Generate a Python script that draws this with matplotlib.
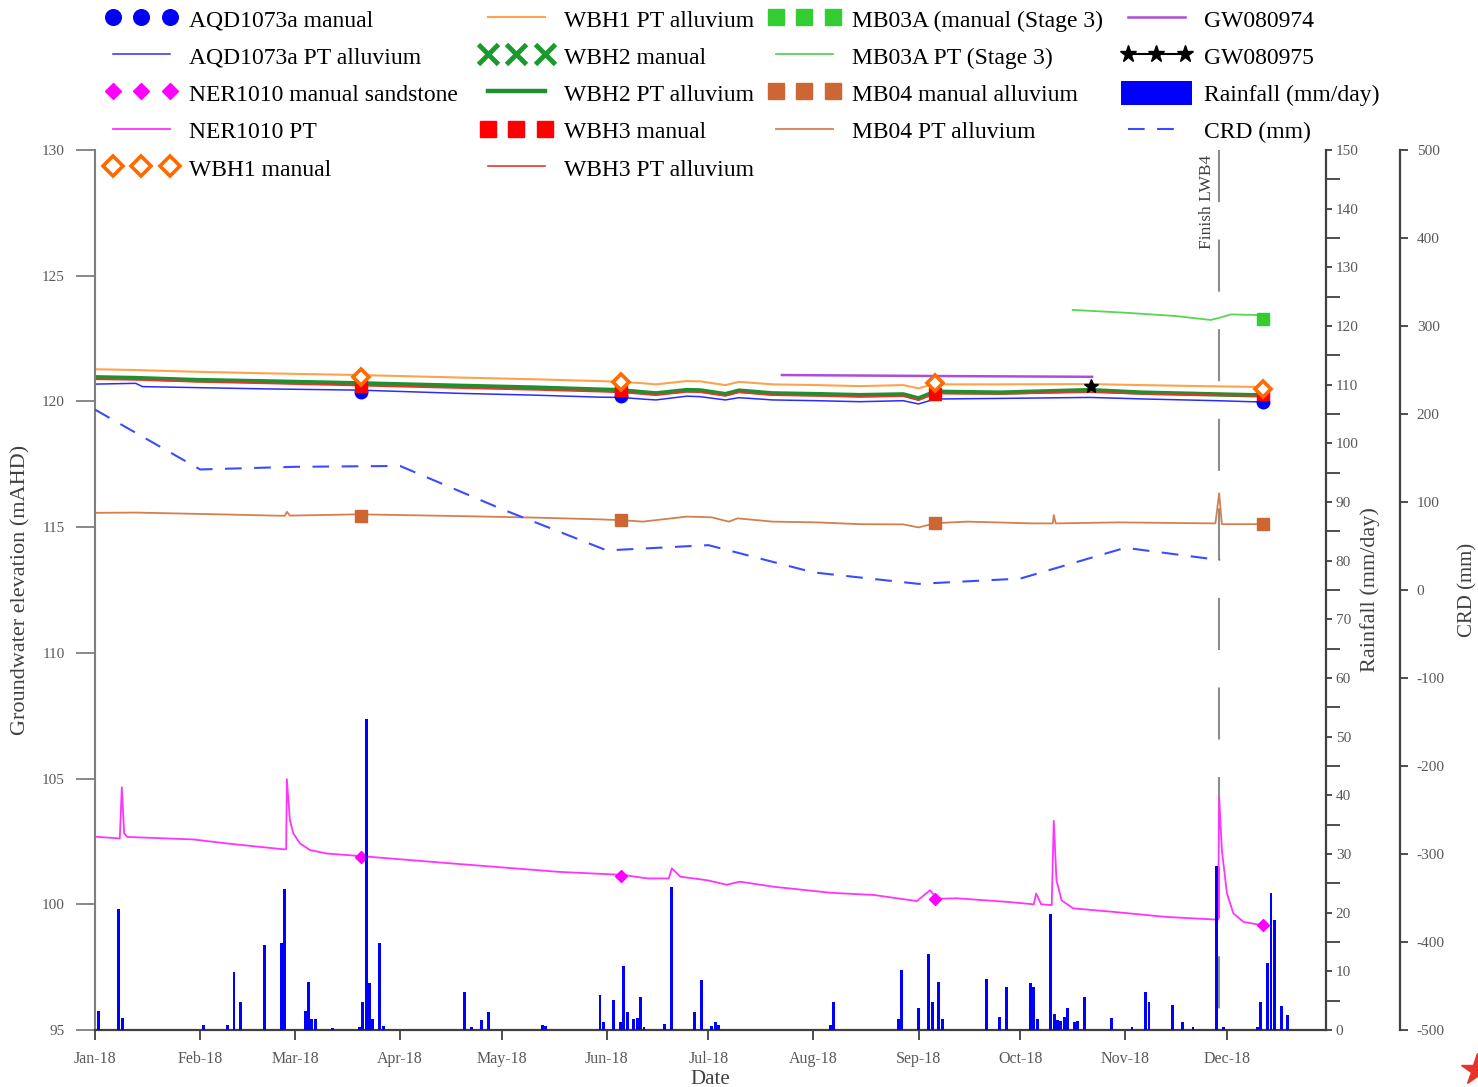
import numpy as np
import pandas as pd
import matplotlib
matplotlib.use('Agg')
import matplotlib.pyplot as plt
import matplotlib.dates as mdates
from matplotlib.lines import Line2D
from matplotlib.ticker import MultipleLocator

plt.rcParams['font.family'] = ['Liberation Serif', 'DejaVu Serif']
plt.rcParams['axes.unicode_minus'] = False

# all x values are days since 1 Jan 2018
T0 = pd.Timestamp('2018-01-01')

# manual readings
man_day = [78.5, 155.2, 248.0, 344.5]
aqd_man = [120.37, 120.21, np.nan, 119.98]
wbh1_man = [120.97, 120.77, 120.73, 120.49]
wbh3_man = [120.61, 120.45, 120.30, 120.30]
mb04_man = [115.44, 115.28, 115.16, 115.12]
ner_man = [101.88, 101.12, 100.21, 99.17]
mb03a_man_day = [344.5]
mb03a_man = [123.28]
gw75_day = [293.8]
gw75 = [120.61]

# pressure transducer (PT) records, upper cluster
pt_day = [0, 12, 14, 30, 50, 78, 108, 130, 149, 155, 162, 165.5, 174.6, 178.5,
          186, 190, 200, 213, 225.7, 238.5, 243, 248, 251, 267, 293.5, 309,
          331, 341, 345]
wbh1_pt = [121.28, 121.25, 121.24, 121.18, 121.12, 121.05, 120.95, 120.88,
           120.81, 120.78, 120.72, 120.68, 120.81, 120.80, 120.65, 120.78,
           120.68, 120.65, 120.61, 120.65, 120.52, 120.72, 120.68, 120.68,
           120.69, 120.65, 120.60, 120.58, 120.57]
wbh2_pt = [120.96, 120.93, 120.92, 120.85, 120.80, 120.72, 120.62, 120.55,
           120.47, 120.45, 120.36, 120.32, 120.45, 120.44, 120.29, 120.43,
           120.32, 120.29, 120.25, 120.28, 120.12, 120.39, 120.38, 120.35,
           120.45, 120.35, 120.28, 120.25, 120.25]
wbh3_pt = [120.88, 120.86, 120.85, 120.78, 120.72, 120.63, 120.53, 120.46,
           120.39, 120.36, 120.29, 120.25, 120.38, 120.37, 120.22, 120.36,
           120.25, 120.22, 120.18, 120.21, 120.05, 120.32, 120.31, 120.30,
           120.37, 120.30, 120.25, 120.22, 120.22]
aqd_pt = [120.69, 120.72, 120.59, 120.55, 120.50, 120.45, 120.32, 120.25,
          120.17, 120.16, 120.09, 120.06, 120.21, 120.19, 120.06, 120.15,
          120.06, 120.03, 119.99, 120.03, 119.90, 120.10, 120.10, 120.12,
          120.16, 120.10, 120.03, 119.99, 119.98]

mb04_day = [0, 12, 40, 56, 56.6, 57.5, 78, 108, 130, 149, 155, 161.7, 165.5,
            174.6, 182, 187, 189.6, 200, 213, 225.7, 238.5, 243, 248, 257.5,
            276.8, 282.6, 282.9, 283.5, 302, 330.6, 331.7, 332.5, 345]
mb04_pt = [115.57, 115.58, 115.50, 115.45, 115.61, 115.46, 115.51, 115.44,
           115.38, 115.31, 115.28, 115.22, 115.28, 115.42, 115.39, 115.22,
           115.35, 115.22, 115.19, 115.12, 115.11, 114.99, 115.16, 115.22,
           115.15, 115.15, 115.48, 115.15, 115.19, 115.15, 116.35, 115.12,
           115.12]

ner_day = [0, 7.3, 7.9, 8.6, 9.5, 29, 39, 55.5, 56.4, 56.6, 57.5, 58.5, 60.5,
           63.4, 68.4, 78.2, 107.7, 137, 155.8, 163, 169.3, 170.2, 172.7,
           180.5, 186.4, 190.3, 200.2, 210, 217, 229.9, 242.5, 246.4, 248.5,
           254.3, 269, 277, 277.7, 279.2, 282.3, 282.9, 283.7, 285.2, 288.6,
           300.5, 316, 329.9, 331.4, 331.7, 332.5, 334, 335.9, 338.9, 344.3]
ner_pt = [102.69, 102.62, 104.65, 102.82, 102.68, 102.58, 102.42, 102.19,
          102.19, 104.98, 103.35, 102.82, 102.42, 102.16, 102.02, 101.92,
          101.60, 101.29, 101.17, 101.03, 101.03, 101.43, 101.10, 100.96,
          100.78, 100.90, 100.70, 100.56, 100.46, 100.37, 100.13, 100.56,
          100.22, 100.24, 100.10, 100.00, 100.43, 100.00, 99.97, 103.32,
          100.96, 100.16, 99.84, 99.70, 99.50, 99.40, 99.40, 104.28, 102.16,
          100.43, 99.64, 99.30, 99.17]

mb03a_day = [288.5, 303.8, 318.6, 329.2, 331.6, 335.1, 342.8, 344.5]
mb03a_pt = [123.64, 123.53, 123.40, 123.24, 123.32, 123.46, 123.44, 123.40]

gw74_day = [202.7, 250, 294.2]
gw74 = [121.05, 121.01, 120.98]

# daily rainfall (mm/day)
rain_day = [1, 7, 8, 32, 39, 41, 43, 50, 55, 56, 62, 63, 64, 65, 70, 78, 79,
            80, 81, 82, 84, 85, 109, 111, 114, 116, 132, 133, 149, 150, 153,
            155, 156, 157, 159, 160, 161, 162, 168, 170, 177, 179, 182, 183,
            184, 217, 218, 237, 238, 243, 246, 247, 249, 250, 263, 267, 269,
            276, 277, 278, 282, 283, 284, 285, 286, 287, 289, 290, 292, 300,
            306, 310, 311, 318, 321, 324, 331, 333, 343, 344, 346, 347, 348,
            350, 352]
rain_mm = [3.3, 20.6, 2.1, 0.9, 0.8, 9.9, 4.8, 14.5, 14.8, 24.0, 3.3, 8.2,
           1.9, 1.8, 0.4, 0.5, 4.8, 53.0, 8.0, 1.9, 14.9, 0.7, 6.4, 0.6, 1.7,
           3.0, 0.8, 0.7, 6.0, 1.3, 5.1, 1.3, 11.0, 3.1, 1.9, 2.1, 5.6, 0.5,
           1.1, 24.4, 3.0, 8.5, 0.7, 1.3, 0.9, 0.9, 4.8, 1.9, 10.3, 3.7, 12.9,
           4.8, 8.2, 1.9, 8.7, 2.3, 7.3, 8.1, 7.3, 1.8, 19.8, 2.7, 1.7, 1.5,
           2.3, 3.7, 1.4, 1.5, 5.7, 2.1, 0.6, 6.4, 4.8, 4.3, 1.4, 0.5, 28.0,
           0.6, 0.5, 4.7, 11.4, 23.3, 18.7, 4.1, 2.6]

# cumulative rainfall departure, month starts
crd_date = ['2018-01-01', '2018-02-01', '2018-03-01', '2018-04-01',
            '2018-05-01', '2018-06-01', '2018-07-01', '2018-08-01',
            '2018-09-01', '2018-10-01', '2018-11-01', '2018-11-29']
crd_mm = [205, 137, 140, 141, 92, 45, 51, 20, 7, 13, 48, 34]

finish_lwb4 = 331.7


def dd(d):
    return T0 + pd.to_timedelta(np.asarray(d, dtype=float), unit='D')


grey = '#595959'
dark = '#404040'

fig = plt.figure(figsize=(14.78, 10.87), dpi=100)
ax = fig.add_axes([0.0643, 0.0524, 0.8329, 0.8096])
ax2 = ax.twinx()
ax3 = ax.twinx()
ax3.spines['right'].set_position(('axes', 1.0601))

# vertical mining marker, dashes start at the top
xf = dd([finish_lwb4])[0]
ax.plot([xf, xf], [130, 95], color='#8c8c8c', lw=1.5, dashes=(25, 18),
        zorder=1)
ax.text(dd([finish_lwb4 - 1.2])[0], 129.8, 'Finish LWB4', rotation=90,
        ha='right', va='top', fontsize=12.5, color=dark)

h = {}
h['aqd_pt'], = ax.plot(dd(pt_day), aqd_pt, color='#2b2bff', lw=1.1,
                       label='AQD1073a PT alluvium')
h['ner_pt'], = ax.plot(dd(ner_day), ner_pt, color='#ff33ff', lw=1.3,
                       label='NER1010 PT')
h['wbh1_pt'], = ax.plot(dd(pt_day), wbh1_pt, color='#ffa24d', lw=1.5,
                        label='WBH1 PT alluvium')
h['wbh2_pt'], = ax.plot(dd(pt_day), wbh2_pt, color='#1f8f2f', lw=3.2,
                        label='WBH2 PT alluvium')
h['wbh3_pt'], = ax.plot(dd(pt_day), wbh3_pt, color='#e8352b', lw=1.2,
                        label='WBH3 PT alluvium')
h['mb03a_pt'], = ax.plot(dd(mb03a_day), mb03a_pt, color='#55d655', lw=1.3,
                         label='MB03A PT (Stage 3)')
h['mb04_pt'], = ax.plot(dd(mb04_day), mb04_pt, color='#d4804e', lw=1.3,
                        label='MB04 PT alluvium')
h['gw74'], = ax.plot(dd(gw74_day), gw74, color='#b04cd8', lw=1.8,
                     label='GW080974')

h['aqd_man'], = ax.plot(dd(man_day), aqd_man, 'o', color='#0000ff', ms=9,
                        label='AQD1073a manual')
h['ner_man'], = ax.plot(dd(man_day), ner_man, 'D', color='#ff00ff', ms=6.5,
                        label='NER1010 manual sandstone')
h['wbh2_man'], = ax.plot([], [], 'x', color='#1a9a2a', ms=11, mew=3.5,
                         label='WBH2 manual')
h['wbh3_man'], = ax.plot(dd(man_day), wbh3_man, 's', color='#ff0000', ms=9,
                         label='WBH3 manual')
h['wbh1_man'], = ax.plot(dd(man_day), wbh1_man, 'D', mfc='white', mec='#ff6a00',
                         mew=2.6, ms=8.5, label='WBH1 manual')
h['mb03a_man'], = ax.plot(dd(mb03a_man_day), mb03a_man, 's', color='#33cc33',
                          ms=9, label='MB03A (manual (Stage 3)')
h['mb04_man'], = ax.plot(dd(man_day), mb04_man, 's', color='#cd6632', ms=9,
                         label='MB04 manual alluvium')
h['gw75'], = ax.plot(dd(gw75_day), gw75, '-*', color='black', ms=10, lw=1.5,
                     label='GW080975')

h['rain'] = ax2.bar(dd(rain_day), rain_mm, width=0.85, color='#0000ff',
                    linewidth=0, label='Rainfall (mm/day)')
h['crd'], = ax3.plot(pd.to_datetime(crd_date), crd_mm, color='#3a4cff',
                     lw=1.5, dashes=(8, 6), label='CRD (mm)')

# main axis
ax.set_xlim(pd.Timestamp('2018-01-01'), pd.Timestamp('2018-12-30 06:00'))
ax.set_ylim(95, 130)
ax.yaxis.set_major_locator(MultipleLocator(5))
ax.xaxis.set_major_locator(mdates.MonthLocator())
ax.xaxis.set_major_formatter(mdates.DateFormatter('%b-%y'))
ax.tick_params(axis='x', length=7, width=1.3, color=dark, pad=8,
               labelsize=11.5, labelcolor=grey)
ax.tick_params(axis='y', length=14, width=1.3, color='#7f7f7f', pad=8,
               labelsize=11, labelcolor=grey)
ax.set_xlabel('Date', fontsize=15, color=dark, labelpad=2)
ax.set_ylabel('Groundwater elevation (mAHD)', fontsize=16, color=dark,
              labelpad=8)
for s in ['top', 'right']:
    ax.spines[s].set_visible(False)
ax.spines['left'].set_color('#7f7f7f')
ax.spines['left'].set_linewidth(1.5)
ax.spines['bottom'].set_color(dark)
ax.spines['bottom'].set_linewidth(1.6)

# rainfall axis
ax2.set_ylim(0, 150)
ax2.yaxis.set_major_locator(MultipleLocator(10))
ax2.yaxis.set_minor_locator(MultipleLocator(5))
ax2.tick_params(axis='y', which='major', length=4, width=1.3, color=dark,
                pad=3, labelsize=11, labelcolor=grey)
ax2.tick_params(axis='y', which='minor', length=10, width=1.3, color=dark)
ax2.set_ylabel('Rainfall (mm/day)', fontsize=16, color=dark, labelpad=1)

# CRD axis
ax3.set_ylim(-500, 500)
ax3.yaxis.set_major_locator(MultipleLocator(100))
ax3.tick_params(axis='y', length=6, width=1.3, color=dark, pad=6,
                labelsize=11, labelcolor=grey)
ax3.set_ylabel('CRD (mm)', fontsize=15, color=dark, labelpad=10)

for a in (ax2, ax3):
    for s in ['top', 'left', 'bottom']:
        a.spines[s].set_visible(False)
    a.spines['right'].set_color(dark)
    a.spines['right'].set_linewidth(1.6)

# legend: four columns placed separately
columns = [
    (['aqd_man', 'aqd_pt', 'ner_man', 'ner_pt', 'wbh1_man'], 106),
    (['wbh1_pt', 'wbh2_man', 'wbh2_pt', 'wbh3_man', 'wbh3_pt'], 481),
    (['mb03a_man', 'mb03a_pt', 'mb04_man', 'mb04_pt'], 769),
    (['gw74', 'gw75', 'rain', 'crd'], 1121),
]
W, H = 1478.0, 1087.0
for keys, x0 in columns:
    hs = [h[k] for k in keys]
    fig.legend(hs, [x.get_label() for x in hs], loc='upper left',
               bbox_to_anchor=(x0 / W, 1 - 7 / H), frameon=False, fontsize=17,
               numpoints=3, markerscale=1.25, handlelength=3.0,
               handleheight=1.15, handletextpad=0.5, labelspacing=0.53,
               borderpad=0, borderaxespad=0)

fig.add_artist(Line2D([0.999], [0.016], marker='*', ms=24, color='#e8332a',
                      linestyle='none', transform=fig.transFigure))

fig.savefig('out.png', dpi=100)
